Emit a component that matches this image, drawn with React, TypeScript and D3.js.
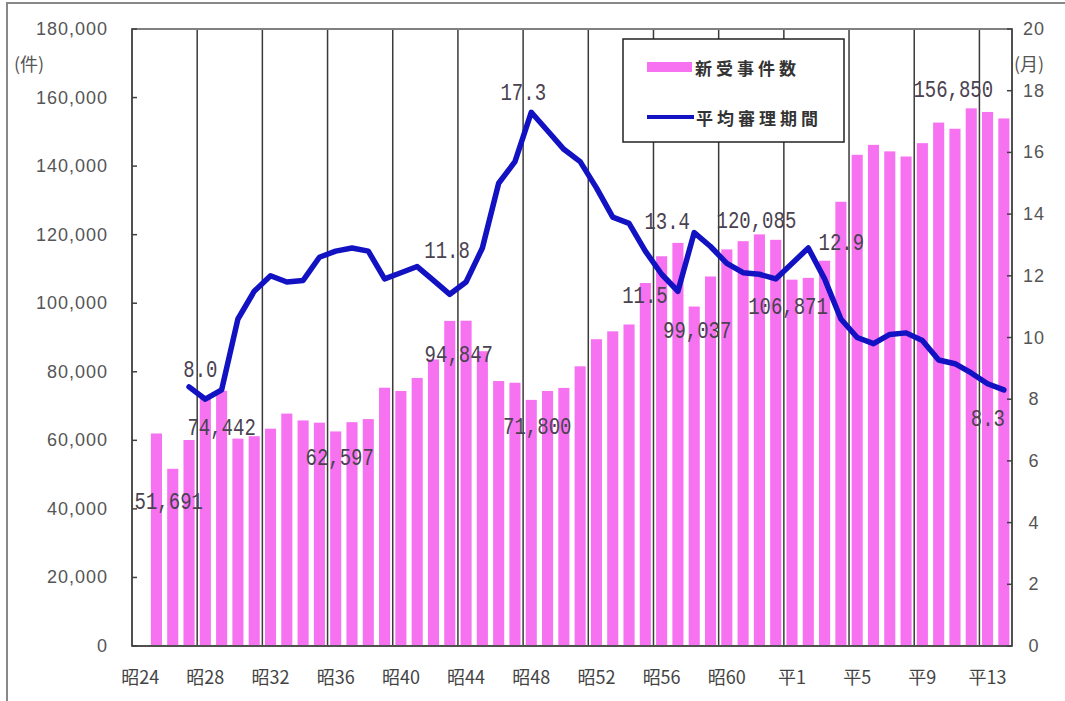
import React from "react";
import * as d3 from "d3";

// 年 (昭和24年 〜 平成14年)
const years = [
  "昭24", "昭25", "昭26", "昭27", "昭28", "昭29", "昭30", "昭31", "昭32", "昭33",
  "昭34", "昭35", "昭36", "昭37", "昭38", "昭39", "昭40", "昭41", "昭42", "昭43",
  "昭44", "昭45", "昭46", "昭47", "昭48", "昭49", "昭50", "昭51", "昭52", "昭53",
  "昭54", "昭55", "昭56", "昭57", "昭58", "昭59", "昭60", "昭61", "昭62", "昭63",
  "平1", "平2", "平3", "平4", "平5", "平6", "平7", "平8", "平9", "平10",
  "平11", "平12", "平13", "平14",
];

// 新受事件数 (件)
const newCases: (number | null)[] = [
  null, 62000, 51691, 60100, 73000, 74442, 60500, 61200, 63400, 67800,
  65800, 65150, 62597, 65300, 66200, 75350, 74400, 78200, 83600, 94847,
  94900, 86000, 77300, 76800, 71800, 74400, 75300, 81600, 89500, 91800,
  93800, 105900, 113700, 117600, 99037, 107800, 115700, 118100, 120085, 118500,
  106871, 107400, 112400, 129600, 143300, 146200, 144300, 142800, 146700, 152700,
  150900, 156850, 155800, 153900,
];

// 平均審理期間 (月)
const avgMonths: (number | null)[] = [
  null, null, null, 8.4, 8.0, 8.3, 10.6, 11.5, 12.0, 11.8,
  11.85, 12.6, 12.8, 12.9, 12.8, 11.9, 12.1, 12.3, 11.85, 11.4,
  11.8, 12.9, 15.0, 15.7, 17.3, 16.7, 16.1, 15.7, 14.85, 13.9,
  13.7, 12.8, 12.05, 11.5, 13.4, 12.95, 12.4, 12.1, 12.05, 11.9,
  12.4, 12.9, 11.9, 10.6, 10.0, 9.8, 10.1, 10.15, 9.9, 9.27,
  9.15, 8.85, 8.5, 8.3,
];

// data labels: which year, and a nudge from the point
const caseLabels = [
  { year: "昭26", dx: -4, dy: 34 },
  { year: "昭29", dx: 0, dy: 38 },
  { year: "昭36", dx: 4, dy: 27 },
  { year: "昭43", dx: 9, dy: 35 },
  { year: "昭48", dx: 6, dy: 28 },
  { year: "昭58", dx: 3, dy: 25 },
  { year: "昭62", dx: -3, dy: -13 },
  { year: "平1", dx: -4, dy: 28 },
  { year: "平12", dx: -18, dy: -18 },
];
const monthLabels = [
  { year: "昭28", dx: -5, dy: -28 },
  { year: "昭44", dx: -19, dy: -30 },
  { year: "昭48", dx: -8, dy: -18 },
  { year: "昭57", dx: -33, dy: 6 },
  { year: "昭58", dx: -27, dy: -10 },
  { year: "平2", dx: 33, dy: -4 },
  { year: "平14", dx: -16, dy: 30 },
];

const W = 1065;
const H = 701;
const left = 132;
const right = 1012;
const top = 29;
const bottom = 646;

const barColor = "#f672f1";
const lineColor = "#1212c2";
const axisFont = "'Liberation Sans', Arial, sans-serif";
const jpFont = "'Noto Sans CJK JP', sans-serif";
const monoFont = "'Liberation Mono', 'DejaVu Sans Mono', monospace";

export default function App() {
  const x = d3
    .scaleBand<string>()
    .domain(years)
    .range([left, right])
    .paddingInner(0.32)
    .paddingOuter(0.16);
  const step = x.step();
  const bw = x.bandwidth();
  const cx = (yr: string) => (x(yr) as number) + bw / 2;
  const edge = (yr: string) => (x(yr) as number) - (step * 0.32) / 2;

  const yL = d3.scaleLinear().domain([0, 180000]).range([bottom, top]);
  const yR = d3.scaleLinear().domain([0, 20]).range([bottom, top]);

  const leftTicks = d3.range(0, 180001, 20000);
  const rightTicks = d3.range(0, 21, 2);
  const fmt = d3.format(",");

  const line = d3
    .line<number | null>()
    .defined((d) => d != null)
    .x((d, i) => cx(years[i]))
    .y((d) => yR(d as number));

  const gridYears = years.filter((d, i) => i > 0 && i % 4 === 0);
  const labelYears = years.filter((d, i) => i % 4 === 0);

  const dataLabel = (key: string, tx: number, ty: number, text: string) => (
    <text
      key={key}
      transform={`translate(${tx},${ty}) scale(1,1.3)`}
      textAnchor="middle"
      dominantBaseline="central"
      fontFamily={monoFont}
      fontSize={19}
      fill="#4a4250"
    >
      {text}
    </text>
  );

  return (
    <svg
      width={W}
      height={H}
      style={{ position: "absolute", left: 0, top: 0, background: "#fff" }}
    >
      {/* outer frame */}
      <rect x={7} y={3} width={1080} height={720} fill="#fff" stroke="#888" strokeWidth={2} />

      {/* bars */}
      {years.map((yr, i) =>
        newCases[i] == null ? null : (
          <rect
            key={yr}
            x={x(yr)}
            y={yL(newCases[i] as number)}
            width={bw}
            height={bottom - yL(newCases[i] as number)}
            fill={barColor}
          />
        )
      )}

      {/* vertical grid lines */}
      {gridYears.map((yr) => (
        <line key={yr} x1={edge(yr)} x2={edge(yr)} y1={top} y2={bottom} stroke="#3a3a3a" strokeWidth={1.5} />
      ))}

      {/* plot frame */}
      <rect x={left} y={top} width={right - left} height={bottom - top} fill="none" stroke="#808080" strokeWidth={2} />
      <line x1={left} x2={left} y1={top} y2={bottom} stroke="#404040" strokeWidth={1.5} />
      <line x1={left} x2={right} y1={bottom} y2={bottom} stroke="#404040" strokeWidth={1.5} />
      <line x1={right} x2={right} y1={top} y2={bottom} stroke="#404040" strokeWidth={1.5} />

      {/* left axis */}
      {leftTicks.map((t) => (
        <g key={t}>
          <line x1={left} x2={left + 5} y1={yL(t)} y2={yL(t)} stroke="#404040" strokeWidth={1.5} />
          <text
            x={108}
            y={yL(t)}
            textAnchor="end"
            dominantBaseline="central"
            fontFamily={axisFont}
            fontSize={18}
            letterSpacing={1}
            fill="#555"
          >
            {fmt(t)}
          </text>
        </g>
      ))}
      <text x={14} y={63} dominantBaseline="central" fontFamily={jpFont} fontSize={18} fill="#555">
        (件)
      </text>

      {/* right axis */}
      {rightTicks.map((t) => (
        <g key={t}>
          <line x1={right - 5} x2={right} y1={yR(t)} y2={yR(t)} stroke="#404040" strokeWidth={1.5} />
          <text
            x={1034}
            y={yR(t)}
            textAnchor="middle"
            dominantBaseline="central"
            fontFamily={axisFont}
            fontSize={18}
            letterSpacing={1}
            fill="#555"
          >
            {t}
          </text>
        </g>
      ))}
      <text x={1014} y={63} dominantBaseline="central" fontFamily={jpFont} fontSize={18} fill="#555">
        (月)
      </text>

      {/* bottom labels */}
      {labelYears.map((yr) => (
        <text
          key={yr}
          x={cx(yr)}
          y={676}
          textAnchor="middle"
          dominantBaseline="central"
          fontFamily={jpFont}
          fontSize={18}
          fill="#444"
        >
          {yr}
        </text>
      ))}

      {/* line */}
      <path d={line(avgMonths) || ""} fill="none" stroke={lineColor} strokeWidth={5.5} strokeLinejoin="round" strokeLinecap="round" />

      {/* data labels */}
      {caseLabels.map((l) => {
        const i = years.indexOf(l.year);
        const v = newCases[i] as number;
        return dataLabel("c" + l.year, cx(l.year) + l.dx, yL(v) + l.dy, fmt(v));
      })}
      {monthLabels.map((l) => {
        const i = years.indexOf(l.year);
        const v = avgMonths[i] as number;
        return dataLabel("m" + l.year, cx(l.year) + l.dx, yR(v) + l.dy, v.toFixed(1));
      })}

      {/* legend */}
      <rect x={623} y={39} width={221} height={103} fill="#fff" stroke="#222" strokeWidth={1.5} />
      <rect x={647} y={62} width={45} height={10} fill={barColor} />
      <text x={695} y={67} dominantBaseline="central" fontFamily={jpFont} fontSize={17} fontWeight="bold" letterSpacing={4} fill="#333">
        新受事件数
      </text>
      <line x1={647} x2={694} y1={117} y2={117} stroke={lineColor} strokeWidth={4} />
      <text x={696} y={117} dominantBaseline="central" fontFamily={jpFont} fontSize={17} fontWeight="bold" letterSpacing={4} fill="#333">
        平均審理期間
      </text>
    </svg>
  );
}
